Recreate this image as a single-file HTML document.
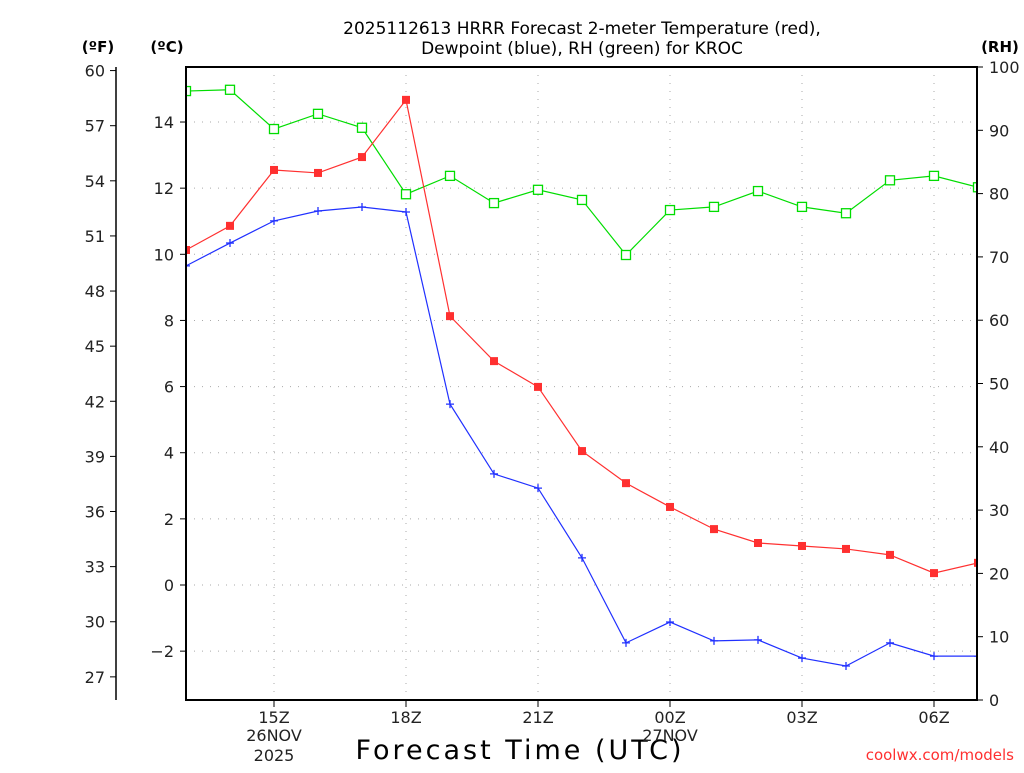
<!DOCTYPE html>
<html><head><meta charset="utf-8"><style>
body{margin:0;background:#fff;width:1024px;height:768px;overflow:hidden}
svg{font-family:"DejaVu Sans","Liberation Sans",sans-serif}
</style></head><body>
<svg id="c" width="1024" height="768" xmlns="http://www.w3.org/2000/svg">
<text x="582" y="34" font-size="17" text-anchor="middle">2025112613 HRRR Forecast 2-meter Temperature (red),</text>
<text x="582" y="54" font-size="17" text-anchor="middle">Dewpoint (blue), RH (green) for KROC</text>
<text x="98" y="52" font-size="15" font-weight="bold" text-anchor="middle">(ºF)</text>
<text x="167" y="52" font-size="15" font-weight="bold" text-anchor="middle">(ºC)</text>
<text x="1000" y="52" font-size="15" font-weight="bold" text-anchor="middle">(RH)</text>
<text x="520" y="759" font-size="27" text-anchor="middle" letter-spacing="3">Forecast Time (UTC)</text>
<text x="1014" y="760" font-size="15" fill="#ff3030" text-anchor="end">coolwx.com/models</text>
<g id="g"></g>
</svg>
<script>
const hours=[13,14,15,16,17,18,19,20,21,22,23,0,1,2,3,4,5,6,7];
const xTicks=["15Z","18Z","21Z","00Z","03Z","06Z"];
const tempC=[10.13,10.86,12.55,12.46,12.94,14.67,8.13,6.77,5.99,4.05,3.08,2.36,1.69,1.27,1.18,1.09,0.91,0.36,0.67];
const dewC=[9.65,10.34,11.01,11.31,11.43,11.28,5.47,3.36,2.93,0.82,-1.75,-1.12,-1.69,-1.66,-2.21,-2.45,-1.75,-2.15,-2.15];
const rh=[96.2,96.4,90.2,92.6,90.4,79.9,82.8,78.5,80.6,79.0,70.3,77.4,77.9,80.4,77.9,76.9,82.1,82.8,81.0];
const cTicks=[-2,0,2,4,6,8,10,12,14];
const fTicks=[27,30,33,36,39,42,45,48,51,54,57,60];
const rhTicks=[0,10,20,30,40,50,60,70,80,90,100];
const L=186,R=977,T=67,B=700;
const xs=i=>L+i*44;
const yC=c=>585-c*33.07;
const yF=f=>yC((f-32)*5/9);
const yR=r=>B-r*(B-T)/100;
const g=document.getElementById('g');const NS='http://www.w3.org/2000/svg';
function mk(t,a,p){const e=document.createElementNS(NS,t);for(const k in a)e.setAttribute(k,a[k]);(p||g).appendChild(e);return e;}
cTicks.forEach(c=>{const y=yC(c);
 const l=mk('line',{x1:L,x2:R,y1:y,y2:y,stroke:'#aaa','stroke-dasharray':'1,7'});
 
 
 mk('line',{x1:180,x2:L,y1:y,y2:y,stroke:'#000'});
 const t=mk('text',{x:174,y:y+6,'font-size':16,'text-anchor':'end',fill:'#222'});t.textContent=c<0?'\u2212'+(-c):c;
 
 });
fTicks.forEach(f=>{const y=yF(f);
 mk('line',{x1:110,x2:116,y1:y,y2:y,stroke:'#000'});
 const t=mk('text',{x:105,y:y+6,'font-size':16,'text-anchor':'end',fill:'#222'});t.textContent=f;
 
 });
mk('line',{x1:116,x2:116,y1:67,y2:700,stroke:'#000','stroke-width':1.5});
rhTicks.forEach(r=>{const y=yR(r);
 mk('line',{x1:R,x2:R+6,y1:y,y2:y,stroke:'#000'});
 const t=mk('text',{x:989,y:y+6,'font-size':16,fill:'#222'});t.textContent=r;
 
 });
hours.forEach((h,i)=>{if(h%3!==0)return;const x=xs(i);
 const l=mk('line',{x1:x,x2:x,y1:T,y2:B,stroke:'#aaa','stroke-dasharray':'1,7'});
 
 
 mk('line',{x1:x,x2:x,y1:B,y2:B+7,stroke:'#000'});
 const lab=xTicks[[15,18,21,0,3,6].indexOf(h)];
 const t=mk('text',{x:x,y:723,'font-size':16,'text-anchor':'middle',fill:'#222'});t.textContent=lab;
 
 });
[[274,741,'26NOV'],[274,761,'2025'],[670,741,'27NOV']].forEach(d=>{const t=mk('text',{x:d[0],y:d[1],'font-size':16,'text-anchor':'middle',fill:'#222'});t.textContent=d[2];
 
 });
const cl=mk('clipPath',{id:'cp'});mk('rect',{x:L,y:T,width:R-L,height:B-T},cl);
const pg=mk('g',{'clip-path':'url(#cp)'});
function series(vals,yf,col,name,marker){
 const p=mk('polyline',{points:vals.map((v,i)=>xs(i)+','+yf(v)).join(' '),fill:'none',stroke:col,'stroke-width':1.2},pg);
 
 
 vals.forEach((v,i)=>{const x=xs(i),y=yf(v);let m;
  if(marker==='fill')m=mk('rect',{x:x-4,y:y-4,width:8,height:8,fill:col},pg);
  else if(marker==='open')m=mk('rect',{x:x-4.5,y:y-4.5,width:9,height:9,fill:'#fff',stroke:col,'stroke-width':1.3},pg);
  else m=mk('path',{d:`M${x-4},${y}H${x+4}M${x},${y-4}V${y+4}`,stroke:col,'stroke-width':1.3},pg);
  
  });}
series(rh,yR,'#00dd00','rh','open');
series(tempC,yC,'#ff3030','temperature','fill');
series(dewC,yC,'#2030ff','dewpoint','plus');
const fr=mk('rect',{x:L,y:T,width:R-L,height:B-T,fill:'none',stroke:'#000','stroke-width':2});


</script>
</body></html>
